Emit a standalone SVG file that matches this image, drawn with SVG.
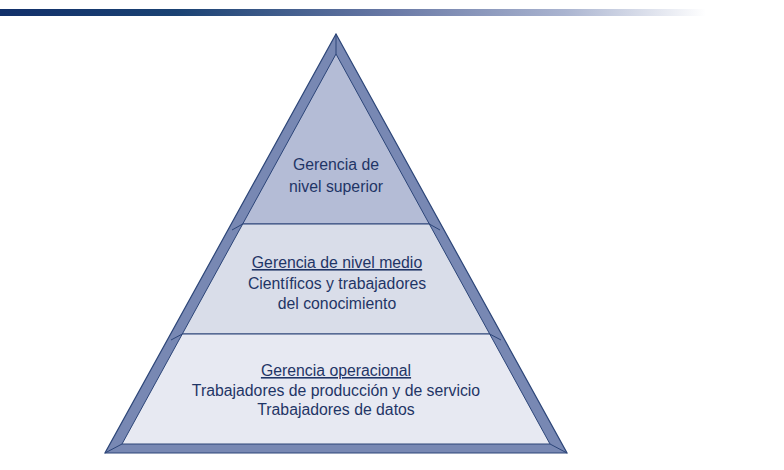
<svg xmlns="http://www.w3.org/2000/svg" width="784" height="470" viewBox="0 0 784 470">
<defs>
<linearGradient id="bar" x1="0" y1="0" x2="1" y2="0">
<stop offset="0" stop-color="#12306a"/>
<stop offset="0.25" stop-color="#1a4273"/>
<stop offset="0.55" stop-color="#6878a5"/>
<stop offset="0.8" stop-color="#aab4d0"/>
<stop offset="1" stop-color="#ffffff"/>
</linearGradient>
<style>
.band{fill:#7888b3;stroke:#2c4578;stroke-width:1.2;stroke-linejoin:miter}
.edge{stroke:#2c4578;stroke-width:1;fill:none}
.t{font-family:"Liberation Sans",Arial,sans-serif;font-size:15.8px;fill:#1f3566;text-anchor:middle}
.u{text-decoration:underline}
</style>
</defs>
<rect x="0" y="9" width="706" height="7" fill="url(#bar)"/>
<g id="pyramid-frame">
<polygon class="band" points="336,34 567,453 105,453"/>
</g>
<g id="top-level">
<polygon points="336,54 429.3,224 242.7,224" fill="#b4bcd6" stroke="#2c4578" stroke-width="1"/>
<text class="t" x="336" y="170">Gerencia de</text>
<text class="t" x="336" y="192">nivel superior</text>
</g>
<g id="middle-level">
<polygon points="242.7,224 429.3,224 489.7,334 182.3,334" fill="#d9dde9" stroke="#2c4578" stroke-width="1"/>
<text class="t u" x="337" y="268">Gerencia de nivel medio</text>
<text class="t" x="337" y="289">Científicos y trabajadores</text>
<text class="t" x="337" y="309">del conocimiento</text>
</g>
<g id="operational-level">
<polygon points="182.3,334 489.7,334 550,444 122,444" fill="#e7e9f2" stroke="#2c4578" stroke-width="1"/>
<text class="t u" x="336" y="376">Gerencia operacional</text>
<text class="t" x="336" y="396">Trabajadores de producción y de servicio</text>
<text class="t" x="336" y="415">Trabajadores de datos</text>
</g>
<g id="connectors">
<line class="edge" x1="336" y1="54" x2="336" y2="34"/>
<line class="edge" x1="122" y1="444" x2="105" y2="453"/>
<line class="edge" x1="550" y1="444" x2="567" y2="453"/>
<line class="edge" x1="242.7" y1="224" x2="232" y2="230"/>
<line class="edge" x1="429.3" y1="224" x2="440" y2="230"/>
<line class="edge" x1="182.3" y1="334" x2="171" y2="340"/>
<line class="edge" x1="489.7" y1="334" x2="501" y2="340"/>
</g>
</svg>
